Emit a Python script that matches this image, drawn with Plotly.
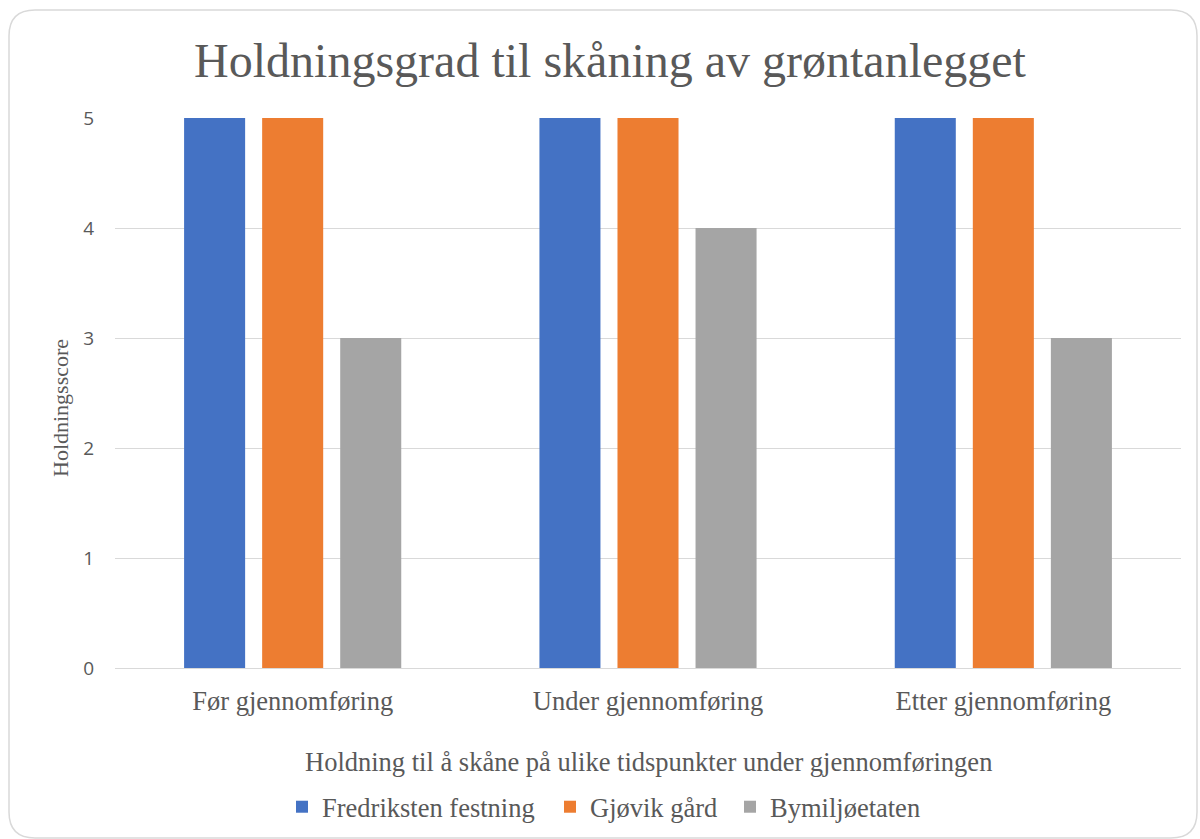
import plotly.graph_objects as go

categories = ["Før gjennomføring", "Under gjennomføring", "Etter gjennomføring"]
series_names = ["Fredriksten festning", "Gjøvik gård", "Bymiljøetaten"]
fredriksten = [5, 5, 5]
gjovik = [5, 5, 5]
bymiljo = [3, 4, 3]
colors = ["#4472C4", "#ED7D31", "#A5A5A5"]

W, H = 1200, 839
L, R, T, B = 115, 19, 118, 171
pw, ph = W - L - R, H - T - B

def px(x):
    return (x - L) / pw

def py(y):
    return (H - B - y) / ph

serif = "Liberation Serif"
sans = "Open Sans"
txt = "#595959"

legend_ids = ["legend", "legend2", "legend3"]
legend_symbol_x = [307, 575, 755]

fig = go.Figure()
for name, vals, c, lg in zip(series_names, [fredriksten, gjovik, bymiljo], colors, legend_ids):
    fig.add_trace(go.Bar(x=categories, y=vals, name=name, legend=lg, showlegend=True,
                         marker=dict(color=c, line=dict(width=0))))

# rounded border
x0, x1, y0, y1, r = px(9), px(1197), py(838), py(10), 26
rx, ry = r / pw, r / ph
path = (f"M {x0+rx},{y1} L {x1-rx},{y1} Q {x1},{y1} {x1},{y1-ry} "
        f"L {x1},{y0+ry} Q {x1},{y0} {x1-rx},{y0} L {x0+rx},{y0} "
        f"Q {x0},{y0} {x0},{y0+ry} L {x0},{y1-ry} Q {x0},{y1} {x0+rx},{y1} Z")

legend_common = dict(orientation="h", yref="container", xref="container", y=1 - 807 / H,
                     yanchor="middle", xanchor="left",
                     font=dict(family=serif, size=26.5, color=txt), itemwidth=30,
                     bgcolor="rgba(0,0,0,0)", borderwidth=0)

fig.update_layout(
    width=W, height=H,
    margin=dict(l=L, r=R, t=T, b=B, autoexpand=False),
    paper_bgcolor="white", plot_bgcolor="white",
    showlegend=True,
    barmode="group", bargap=0.341, bargroupgap=0.218,
    title=dict(text="Holdningsgrad til skåning av grøntanlegget", x=610 / W, xanchor="center",
               y=1 - 60 / H, yanchor="middle", font=dict(family=serif, size=48, color=txt)),
    font=dict(family=serif, color=txt),
    xaxis=dict(showgrid=False, showline=False, ticks="", ticklabelstandoff=14, automargin=False,
               tickfont=dict(family=serif, size=26.5, color=txt)),
    yaxis=dict(range=[0, 5], dtick=1, showgrid=True, gridcolor="#d9d9d9", gridwidth=1.3,
               zeroline=True, zerolinecolor="#d9d9d9", zerolinewidth=1.3, showline=False,
               automargin=False,
               tickfont=dict(family=sans, size=19, color=txt), ticklabelstandoff=20),
    legend=dict(x=(legend_symbol_x[0] - 25) / W, **legend_common),
    legend2=dict(x=(legend_symbol_x[1] - 25) / W, **legend_common),
    legend3=dict(x=(legend_symbol_x[2] - 25) / W, **legend_common),
    shapes=[dict(type="path", xref="paper", yref="paper", path=path,
                 line=dict(color="#d9d9d9", width=1.5), fillcolor="rgba(0,0,0,0)", layer="below")],
    annotations=[
        dict(text="Holdning til å skåne på ulike tidspunkter under gjennomføringen", xref="paper", yref="paper",
             x=px(648), y=py(762), xanchor="center", yanchor="middle", showarrow=False,
             font=dict(family=serif, size=26.5, color=txt)),
        dict(text="Holdningsscore", xref="paper", yref="paper", x=px(60), y=py(408), textangle=-90,
             xanchor="center", yanchor="middle", showarrow=False, font=dict(family=serif, size=22, color=txt)),
    ],
)

fig.write_html("out.html", config={"displayModeBar": False},
               post_script="document.body.style.margin='0';document.body.style.overflow='hidden';")
